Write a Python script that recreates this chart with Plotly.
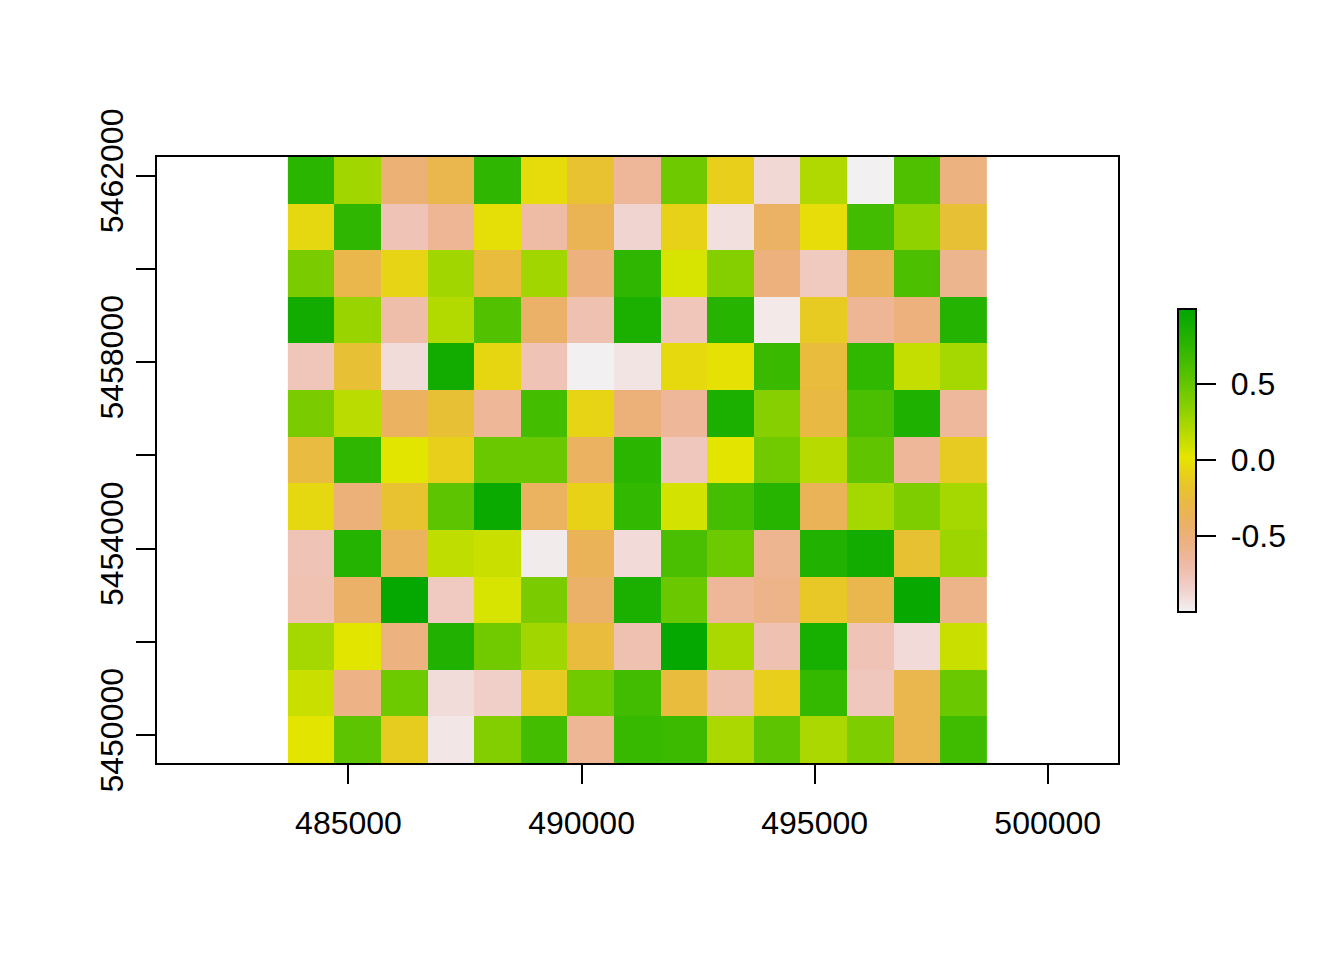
import colorsys
import plotly.graph_objects as go

# Raster grid (15 columns x 13 rows), values listed top row first, left to right
x_origin = 483700
y_origin = 5449400
cell_size = 1000
n_cols = 15
n_rows = 13

row01 = [0.77, 0.26, -0.48, -0.32, 0.75, -0.03, -0.19, -0.64, 0.46, -0.10, -0.88, 0.21, -0.99, 0.60, -0.53]
row02 = [-0.05, 0.75, -0.76, -0.62, -0.01, -0.68, -0.35, -0.86, -0.08, -0.92, -0.42, -0.02, 0.66, 0.33, -0.21]
row03 = [0.41, -0.31, -0.07, 0.26, -0.25, 0.26, -0.52, 0.75, 0.07, 0.37, -0.52, -0.79, -0.36, 0.61, -0.59]
row04 = [0.90, 0.29, -0.71, 0.20, 0.59, -0.43, -0.73, 0.85, -0.77, 0.79, -0.96, -0.13, -0.62, -0.52, 0.80]
row05 = [-0.77, -0.21, -0.90, 0.90, -0.06, -0.76, -0.99, -0.94, -0.04, 0.00, 0.70, -0.25, 0.74, 0.14, 0.25]
row06 = [0.41, 0.17, -0.40, -0.21, -0.63, 0.65, -0.07, -0.50, -0.64, 0.85, 0.36, -0.27, 0.62, 0.83, -0.65]
row07 = [-0.26, 0.75, 0.035, -0.10, 0.48, 0.48, -0.40, 0.77, -0.78, 0.03, 0.45, 0.18, 0.52, -0.64, -0.13]
row08 = [-0.05, -0.50, -0.19, 0.54, 0.94, -0.39, -0.08, 0.73, 0.08, 0.64, 0.79, -0.36, 0.25, 0.40, 0.25]
row09 = [-0.76, 0.80, -0.38, 0.15, 0.12, -0.97, -0.36, -0.89, 0.62, 0.47, -0.60, 0.82, 0.90, -0.20, 0.28]
row10 = [-0.74, -0.43, 0.97, -0.80, 0.07, 0.41, -0.43, 0.85, 0.48, -0.64, -0.57, -0.15, -0.32, 0.96, -0.57]
row11 = [0.25, 0.035, -0.53, 0.82, 0.45, 0.26, -0.25, -0.73, 0.97, 0.23, -0.73, 0.87, -0.75, -0.89, 0.12]
row12 = [0.12, -0.56, 0.47, -0.90, -0.83, -0.13, 0.45, 0.66, -0.25, -0.72, -0.10, 0.72, -0.78, -0.32, 0.48]
row13 = [0.03, 0.54, -0.12, -0.95, 0.38, 0.65, -0.62, 0.71, 0.69, 0.23, 0.54, 0.23, 0.40, -0.32, 0.67]

rows_top_down = [row01, row02, row03, row04, row05, row06, row07, row08,
                 row09, row10, row11, row12, row13]

x_tick_vals = [485000, 490000, 495000, 500000]
x_tick_text = ["485000", "490000", "495000", "500000"]
y_tick_vals = [5450000, 5452000, 5454000, 5456000, 5458000, 5460000, 5462000]
y_tick_text = ["5450000", "", "5454000", "", "5458000", "", "5462000"]
cb_tick_vals = [-0.5, 0.0, 0.5]
cb_tick_text = ["\u00a0-0.5", "\u00a00.0", "\u00a00.5"]
z_min, z_max = -1.0, 1.0


def terrain_colors(n):
    k = n // 2
    cols = []
    for i in range(k):
        f = i / (k - 1)
        h = 4 / 12 + (2 / 12 - 4 / 12) * f
        s = 1.0
        v = 0.65 + (0.9 - 0.65) * f
        cols.append(colorsys.hsv_to_rgb(h, s, v))
    m = n - k + 1
    for i in range(1, m):
        f = i / (m - 1)
        h = 2 / 12 + (0 - 2 / 12) * f
        s = 1.0 - f
        v = 0.9 + (0.95 - 0.9) * f
        cols.append(colorsys.hsv_to_rgb(h, s, v))
    return ["rgb(%d,%d,%d)" % tuple(round(c * 255) for c in col) for col in cols]


cols = terrain_colors(101)[::-1]
colorscale = [[i / (len(cols) - 1), c] for i, c in enumerate(cols)]

x_centers = [x_origin + cell_size * (i + 0.5) for i in range(n_cols)]
y_centers = [y_origin + cell_size * (j + 0.5) for j in range(n_rows)]
z = rows_top_down[::-1]

# page body has an 8px default margin: compensate so the plot lands where R put it
page_off = 8
fig_w, fig_h = 1344 - page_off, 960 - page_off
plot_left, plot_top, plot_w_px, plot_h_px = 157, 157, 961, 606

# x range expanded for equal aspect (R raster plot behaviour)
y_lo, y_hi = y_origin, y_origin + n_rows * cell_size
x_mid = x_origin + n_cols * cell_size / 2
half_w = (y_hi - y_lo) * plot_w_px / plot_h_px / 2

font_family = "Liberation Sans, Arial, sans-serif"
fsize = 32

fig = go.Figure(go.Heatmap(
    x=x_centers, y=y_centers, z=z,
    zmin=z_min, zmax=z_max, zsmooth=False,
    colorscale=colorscale,
    colorbar=dict(
        thickness=18, thicknessmode="pixels",
        len=303, lenmode="pixels",
        x=(1178 - plot_left) / plot_w_px, xanchor="left", xpad=0,
        y=0.5, yanchor="middle", ypad=0,
        outlinewidth=2, outlinecolor="black",
        tickvals=cb_tick_vals, ticktext=cb_tick_text,
        ticks="outside", ticklen=19, tickwidth=2, tickcolor="black",
        tickfont=dict(family=font_family, size=fsize, color="black"),
    ),
    hoverinfo="skip",
))

fig.update_layout(
    width=fig_w, height=fig_h,
    margin=dict(l=plot_left - page_off,
                r=fig_w - (plot_left - page_off) - plot_w_px,
                t=plot_top - page_off,
                b=fig_h - (plot_top - page_off) - plot_h_px, pad=0),
    paper_bgcolor="white", plot_bgcolor="white",
    font=dict(family=font_family, size=fsize, color="black"),
    showlegend=False,
)
fig.update_xaxes(
    range=[x_mid - half_w, x_mid + half_w],
    tickvals=x_tick_vals, ticktext=x_tick_text,
    ticks="outside", ticklen=19, tickwidth=2, tickcolor="black",
    ticklabelstandoff=12,
    showline=True, linewidth=2, linecolor="black", mirror=True,
    showgrid=False, zeroline=False, automargin=False,
    tickfont=dict(family=font_family, size=fsize, color="black"),
)
fig.update_yaxes(
    range=[y_lo, y_hi],
    tickvals=y_tick_vals, ticktext=y_tick_text, tickangle=-90,
    ticks="outside", ticklen=19, tickwidth=2, tickcolor="black",
    showline=True, linewidth=2, linecolor="black", mirror=True,
    showgrid=False, zeroline=False, automargin=False,
    tickfont=dict(family=font_family, size=fsize, color="black"),
)

fig.write_html("out.html")
